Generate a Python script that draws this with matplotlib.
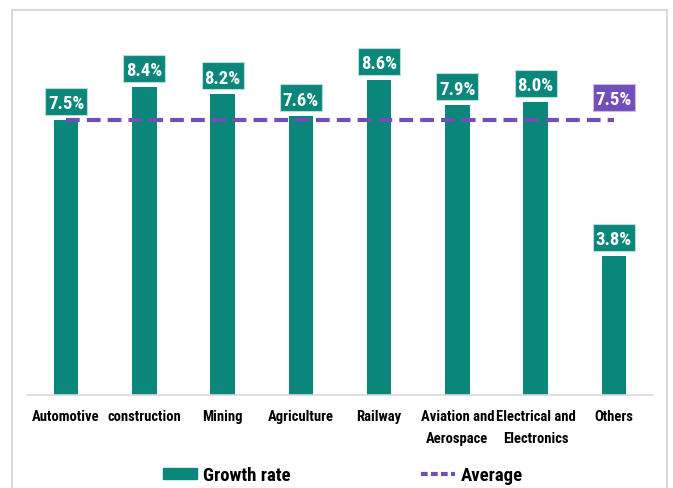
import matplotlib
matplotlib.use("Agg")
import matplotlib.pyplot as plt
from matplotlib.patches import Rectangle, Patch
from matplotlib.lines import Line2D
from matplotlib.transforms import ScaledTranslation

plt.rcParams['font.family'] = ['Roboto Condensed', 'PT Sans Narrow', 'Liberation Sans', 'DejaVu Sans']

categories = ["Automotive", "construction", "Mining", "Agriculture", "Railway",
              "Aviation and\nAerospace", "Electrical and\nElectronics", "Others"]
growth = [7.5, 8.4, 8.2, 7.6, 8.6, 7.9, 8.0, 3.8]
average = 7.5

TEAL = "#0a877a"
PURPLE = "#7050b8"

W, H = 673, 489
fig = plt.figure(figsize=(W/100, H/100), dpi=100)
ax = fig.add_axes([27/W, (H-396)/H, 626/W, 366.7/H])

x = list(range(len(categories)))
ax.bar(x, growth, width=0.31, color=TEAL, zorder=2)
ax.plot([x[0], x[-1]], [average, average], color=PURPLE, lw=3,
        dashes=(3.3, 1.7), zorder=3)


def label_box(xi, yi, text, fc, ec, gap):
    # box sized in inches, anchored at the data point
    trans = fig.dpi_scale_trans + ScaledTranslation(xi, yi, ax.transData)
    bw, bh = 0.42, 0.27
    ax.add_patch(Rectangle((-bw/2, gap), bw, bh, transform=trans, fc=fc, ec=ec,
                           lw=0.8, zorder=4, clip_on=False))
    ax.text(0, gap + bh/2, text, transform=trans, ha="center", va="center_baseline",
            color="white", fontsize=13.5, fontweight="bold", zorder=5)


for xi, v in zip(x, growth):
    label_box(xi, v, f"{v:.1f}%", TEAL, "#b8ddd8", 0.05)
label_box(x[-1], average, f"{average:.1f}%", PURPLE, "#c8bde6", 0.09)

ax.set_xlim(-0.5, len(categories) - 0.5)
ax.set_ylim(0, 10)
ax.set_yticks([])
ax.set_xticks(x)
ax.set_xticklabels(categories, fontsize=10.5, fontweight="bold", linespacing=1.75)
ax.tick_params(axis="x", length=0, pad=10)
for s in ["top", "right", "left"]:
    ax.spines[s].set_visible(False)
ax.spines["bottom"].set_color("#d9d9d9")
ax.spines["bottom"].set_linewidth(1.2)

handles = [Patch(color=TEAL, label="Growth rate"),
           Line2D([0], [0], color=PURPLE, lw=3, dashes=(1.6, 0.8), label="Average")]
fig.legend(handles=handles, loc="center", bbox_to_anchor=(343/W, 1 - 476/H), ncol=2,
           frameon=False, prop={"size": 13.5, "weight": "bold"}, columnspacing=7,
           handlelength=1.8, handletextpad=0.3, handleheight=0.5)

fig.patches.append(Rectangle((12/W, -0.05), (667-12)/W, 1.05 - 11/H, transform=fig.transFigure,
                             fill=False, ec="#d9d9d9", lw=1.5))

fig.savefig("out.png", dpi=100)
